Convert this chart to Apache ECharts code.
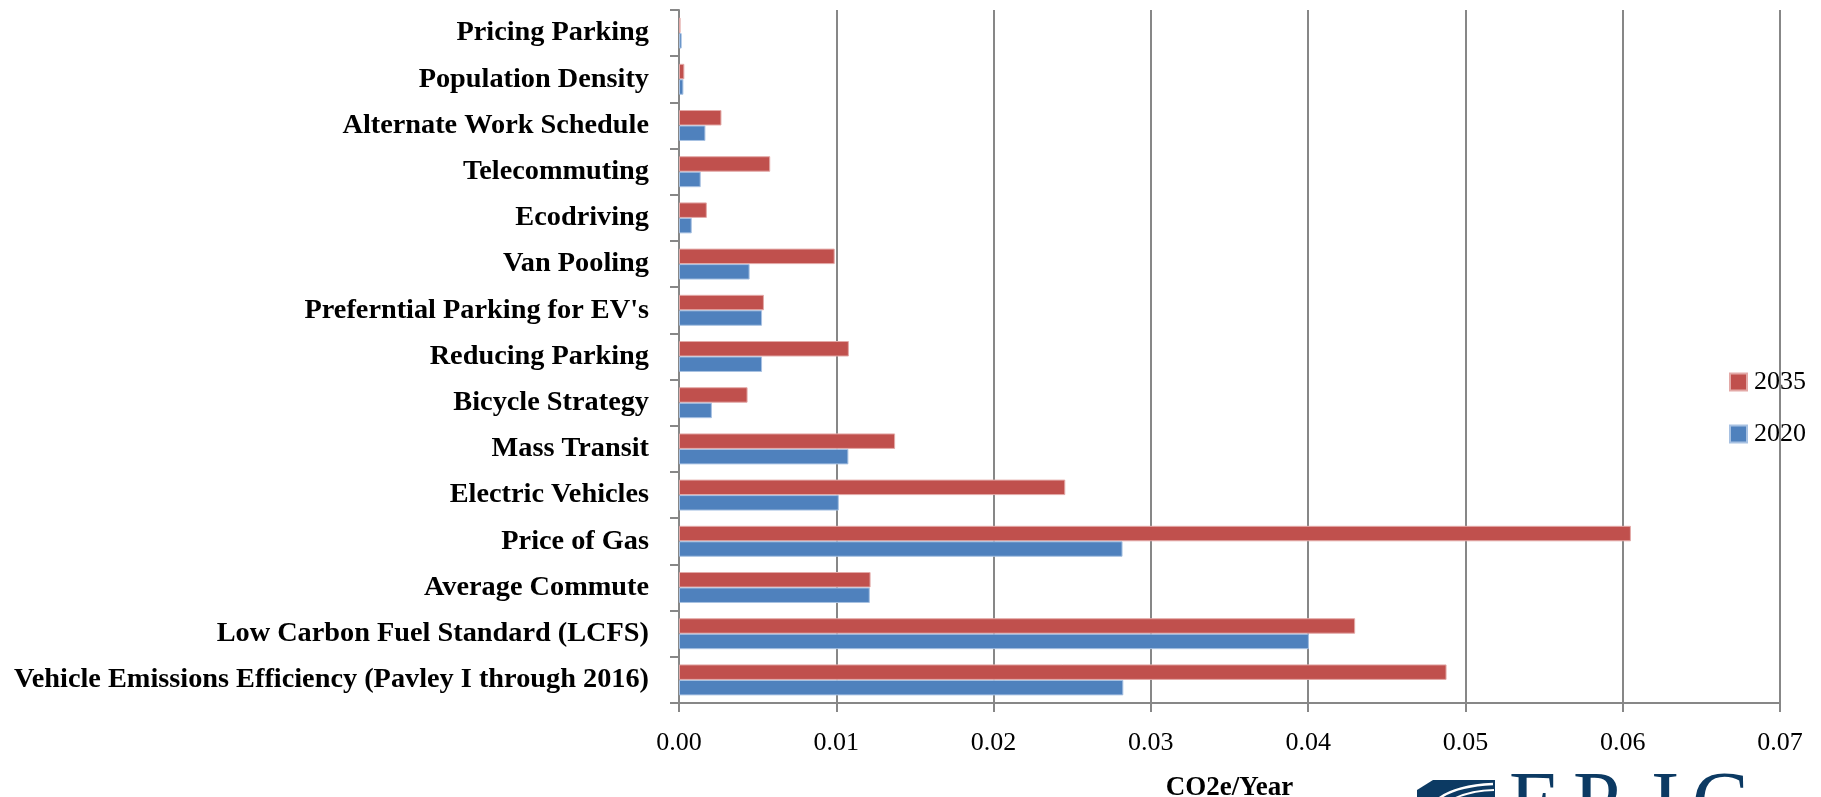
<!DOCTYPE html>
<html>
<head>
<meta charset="utf-8">
<title>CO2e reductions by strategy</title>
<script src="https://cdn.jsdelivr.net/npm/echarts@6/dist/echarts.min.js"></script>
<style>
  html, body { margin: 0; padding: 0; background: #ffffff; }
  #chart { width: 1821px; height: 797px; }
</style>
</head>
<body>
<div id="chart"></div>
<script>
// Strategies, listed top to bottom as they appear on the chart
const categories = [
  'Pricing Parking',
  'Population Density',
  'Alternate Work Schedule',
  'Telecommuting',
  'Ecodriving',
  'Van Pooling',
  "Preferntial Parking for EV's",
  'Reducing Parking',
  'Bicycle Strategy',
  'Mass Transit',
  'Electric Vehicles',
  'Price of Gas',
  'Average Commute',
  'Low Carbon Fuel Standard (LCFS)',
  'Vehicle Emissions Efficiency (Pavley I through 2016)'
];

// CO2e/Year reductions per strategy
const values2035 = [0.0001, 0.00034, 0.0027, 0.0058, 0.00177, 0.0099, 0.0054, 0.0108, 0.00436, 0.01374, 0.02456, 0.06052, 0.01218, 0.04299, 0.0488];
const values2020 = [0.00017, 0.00028, 0.00168, 0.00138, 0.00081, 0.00449, 0.00528, 0.00528, 0.00209, 0.01077, 0.01016, 0.0282, 0.01213, 0.04005, 0.02825];

const seriesNames = ['2035', '2020'];
const xTickLabels = ['0.00', '0.01', '0.02', '0.03', '0.04', '0.05', '0.06', '0.07'];

const SERIF = "'Liberation Serif', 'Times New Roman', serif";
const AXIS_GRAY = '#878787';
const NAVY = '#0C3A63';
const LOGO_FONT = "85px 'Liberation Serif', serif";

const chart = echarts.init(document.getElementById('chart'), null, { renderer: 'canvas' });

const option = {
  backgroundColor: '#ffffff',
  animation: false,
  grid: { left: 679, right: 41, top: 10, bottom: 94, containLabel: false, outerBoundsMode: 'none' },
  legend: {
    data: seriesNames,
    orient: 'vertical',
    left: 1729,
    top: 369,
    padding: 0,
    itemWidth: 17,
    itemHeight: 17,
    itemGap: 26,
    icon: 'rect',
    textStyle: { fontFamily: SERIF, fontSize: 26, color: '#000', lineHeight: 26, padding: [0, 0, 0, 2] }
  },
  xAxis: {
    type: 'value',
    min: 0,
    max: 0.07,
    interval: 0.01,
    name: 'CO2e/Year',
    nameLocation: 'middle',
    nameGap: 72,
    nameTextStyle: { fontFamily: SERIF, fontSize: 27, fontWeight: 'bold', color: '#000' },
    axisLine: { show: true, lineStyle: { color: AXIS_GRAY, width: 2 } },
    axisTick: { show: true, length: 9, lineStyle: { color: AXIS_GRAY, width: 2 } },
    axisLabel: {
      margin: 27,
      fontFamily: SERIF,
      fontSize: 26,
      color: '#000',
      formatter: function (v) { return xTickLabels[Math.round(v / 0.01)]; }
    },
    splitLine: { show: true, lineStyle: { color: AXIS_GRAY, width: 2 } }
  },
  yAxis: {
    type: 'category',
    data: categories,
    inverse: true,
    axisLine: { show: true, lineStyle: { color: AXIS_GRAY, width: 2 } },
    axisTick: { show: true, length: 9, lineStyle: { color: AXIS_GRAY, width: 2 } },
    axisLabel: {
      margin: 30,
      fontFamily: SERIF,
      fontSize: 28.3,
      fontWeight: 'bold',
      color: '#000'
    }
  },
  series: [
    {
      name: seriesNames[0],
      type: 'bar',
      data: values2035,
      barGap: '0%',
      barCategoryGap: '33%',
      itemStyle: { color: '#C0504D', borderColor: '#E3A9A7', borderWidth: 1 }
    },
    {
      name: seriesNames[1],
      type: 'bar',
      data: values2020,
      barGap: '0%',
      barCategoryGap: '33%',
      itemStyle: { color: '#4F81BD', borderColor: '#A7C1E2', borderWidth: 1 }
    }
  ],
  graphic: [
    {
      // EPIC logo, bottom right
      type: 'group',
      x: 1417,
      y: 778,
      silent: true,
      children: [
        { type: 'polygon', shape: { points: [[16, 2], [78, 2], [78, 40], [0, 40], [0, 12]] }, style: { fill: NAVY } },
        { type: 'bezierCurve', shape: { x1: 18, y1: 24, cpx1: 34, cpy1: 8, x2: 76, y2: 6 }, style: { stroke: '#fff', lineWidth: 2.5, fill: null } },
        { type: 'bezierCurve', shape: { x1: 28, y1: 26, cpx1: 46, cpy1: 13, x2: 77, y2: 12 }, style: { stroke: '#fff', lineWidth: 1.8, fill: null } },
        { type: 'text', x: 92, y: 30, style: { text: 'E', font: LOGO_FONT, fill: NAVY, verticalAlign: 'middle' } },
        { type: 'text', x: 156, y: 30, style: { text: 'P', font: LOGO_FONT, fill: NAVY, verticalAlign: 'middle' } },
        { type: 'text', x: 234, y: 30, style: { text: 'I', font: LOGO_FONT, fill: NAVY, verticalAlign: 'middle' } },
        { type: 'text', x: 275, y: 30, style: { text: 'C', font: LOGO_FONT, fill: NAVY, verticalAlign: 'middle' } }
      ]
    }
  ]
};

chart.setOption(option);
</script>
</body>
</html>
